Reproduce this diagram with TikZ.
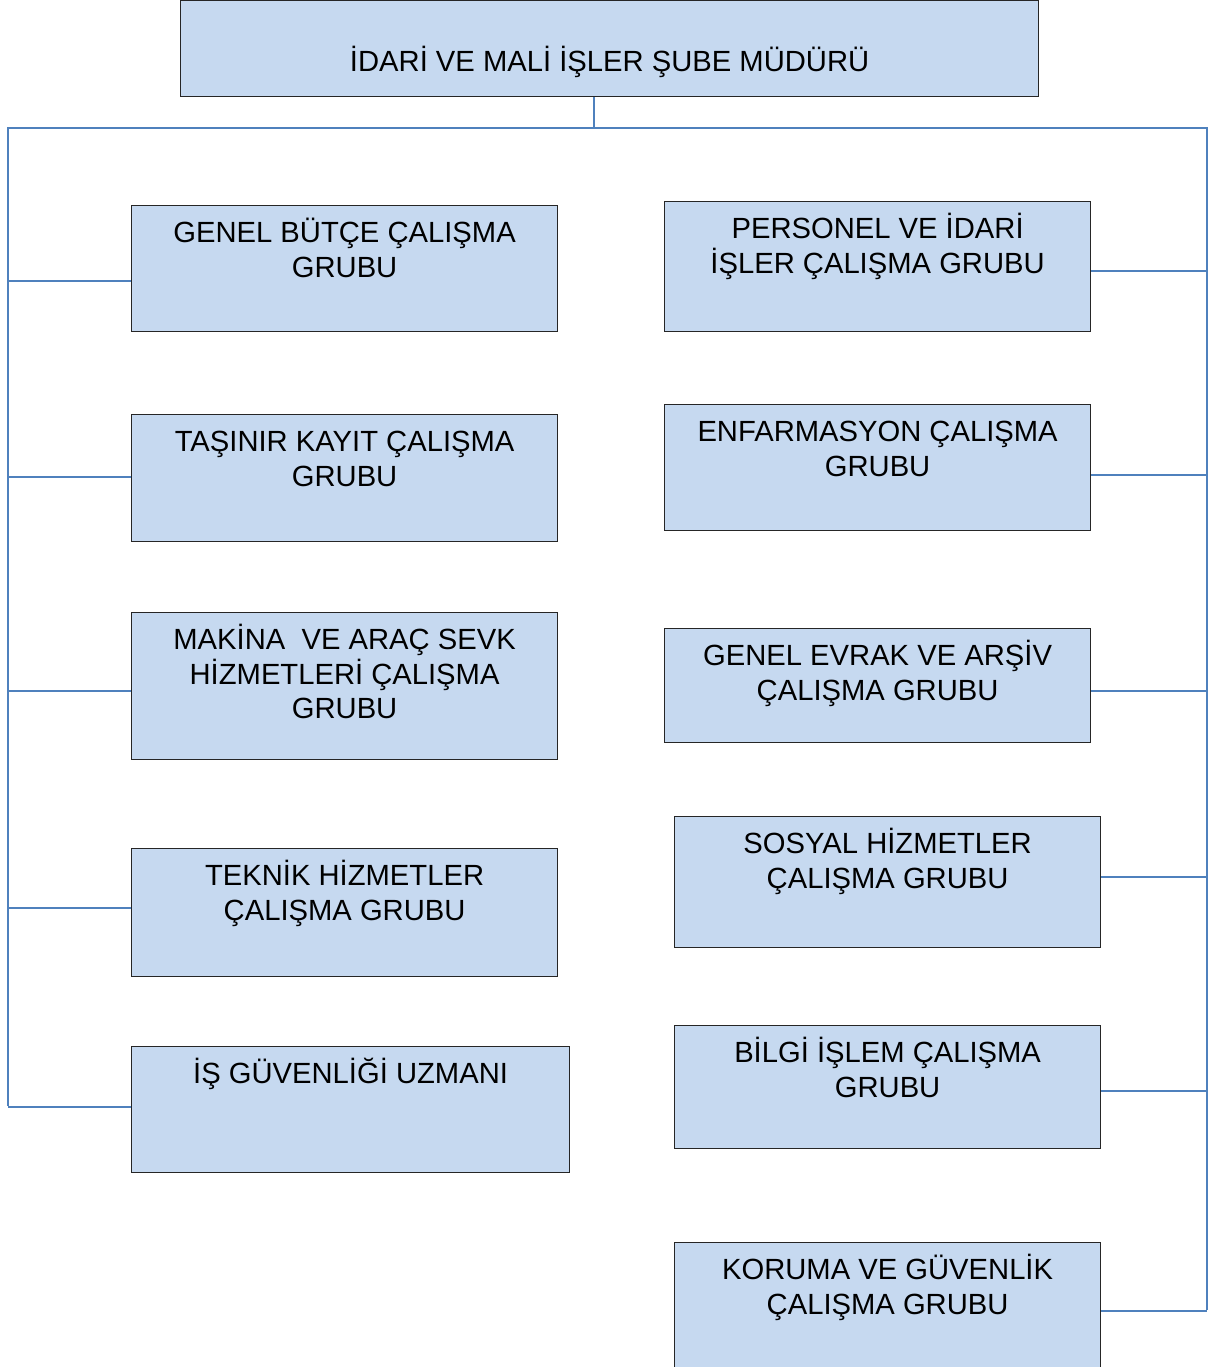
\documentclass[tikz,border=0pt]{standalone}
\usepackage{fontspec}
\setmainfont{Liberation Sans}
\usetikzlibrary{positioning}
\definecolor{boxfill}{RGB}{198,217,240}
\definecolor{linkblue}{RGB}{79,129,189}
\newcommand\capht{\vphantom{İ}}
\tikzset{
  grp/.style={draw=black!85, line width=0.6pt, fill=boxfill, anchor=north west,
    minimum width=213pt, inner sep=0pt},
  grptext/.style={anchor=north, yshift=-6pt, inner sep=0pt, align=center,
    font=\fontsize{14.6}{17.3}\selectfont},
  headtext/.style={grptext, yshift=-17pt},
  link/.style={draw=linkblue, line width=1pt},
}

\begin{document}
\begin{tikzpicture}[x=0.5pt, y=-0.5pt]
  \useasboundingbox (0,0) rectangle (1209,1367);
  \clip (0,0) rectangle (1209,1367);

  % mudur
  \node[grp, minimum width=429pt, minimum height=48pt,
    label={[headtext]north:\capht İDARİ VE MALİ İŞLER ŞUBE MÜDÜRÜ}] (head) at (180,0) {};

  % sol kolon
  \node[grp, minimum height=63pt, label={[grptext]north:\capht GENEL BÜTÇE ÇALIŞMA\\GRUBU}] (l1) at (131,205) {};
  \node[grp, minimum height=63.5pt, label={[grptext]north:\capht TAŞINIR KAYIT ÇALIŞMA\\GRUBU}] (l2) at (131,414) {};
  \node[grp, minimum height=73.5pt, label={[grptext]north:\capht MAKİNA\ \ VE ARAÇ SEVK\\HİZMETLERİ ÇALIŞMA\\GRUBU}] (l3) at (131,612) {};
  \node[grp, minimum height=64pt, label={[grptext]north:\capht TEKNİK HİZMETLER\\ÇALIŞMA GRUBU}] (l4) at (131,848) {};
  \node[grp, minimum width=219pt, minimum height=63pt, label={[grptext]north:\capht İŞ GÜVENLİĞİ UZMANI}] (l5) at (131,1046) {};

  % sag kolon
  \node[grp, minimum height=65pt, label={[grptext]north:\capht PERSONEL VE İDARİ\\İŞLER ÇALIŞMA GRUBU}] (r1) at (664,201) {};
  \node[grp, minimum height=63pt, label={[grptext]north:\capht ENFARMASYON ÇALIŞMA\\GRUBU}] (r2) at (664,404) {};
  \node[grp, minimum height=57pt, label={[grptext]north:\capht GENEL EVRAK VE ARŞİV\\ÇALIŞMA GRUBU}] (r3) at (664,628) {};
  \node[grp, minimum height=65.5pt, label={[grptext]north:\capht SOSYAL HİZMETLER\\ÇALIŞMA GRUBU}] (r4) at (674,816) {};
  \node[grp, minimum height=61.5pt, label={[grptext]north:\capht BİLGİ İŞLEM ÇALIŞMA\\GRUBU}] (r5) at (674,1025) {};
  \node[grp, minimum height=75pt, label={[grptext]north:\capht KORUMA VE GÜVENLİK\\ÇALIŞMA GRUBU}] (r6) at (674,1242) {};

  % baglantilar
  \coordinate (busL) at (8,128);
  \coordinate (busT) at (594,128);
  \coordinate (busR) at (1207,128);
  \coordinate (endL) at (8,1106);
  \coordinate (endR) at (1207,1310);

  \draw[link] (busT |- head.south) -- (busT);
  \draw[link] (endL) -- (busL) -- (busR) -- (endR);

  \foreach \n/\s in {l1/-6, l2/0.75, l3/-2.25, l4/2.5, l5/1.5}{
    \path ([yshift=\s pt]\n.west) coordinate (p);
    \draw[link] (p) -- (p -| busL);
  }
  \foreach \n/\s in {r1/-2, r2/-3.5, r3/-2.5, r4/2.75, r5/-1.75, r6/3.25}{
    \path ([yshift=\s pt]\n.east) coordinate (p);
    \draw[link] (p) -- (p -| busR);
  }
\end{tikzpicture}
\end{document}
